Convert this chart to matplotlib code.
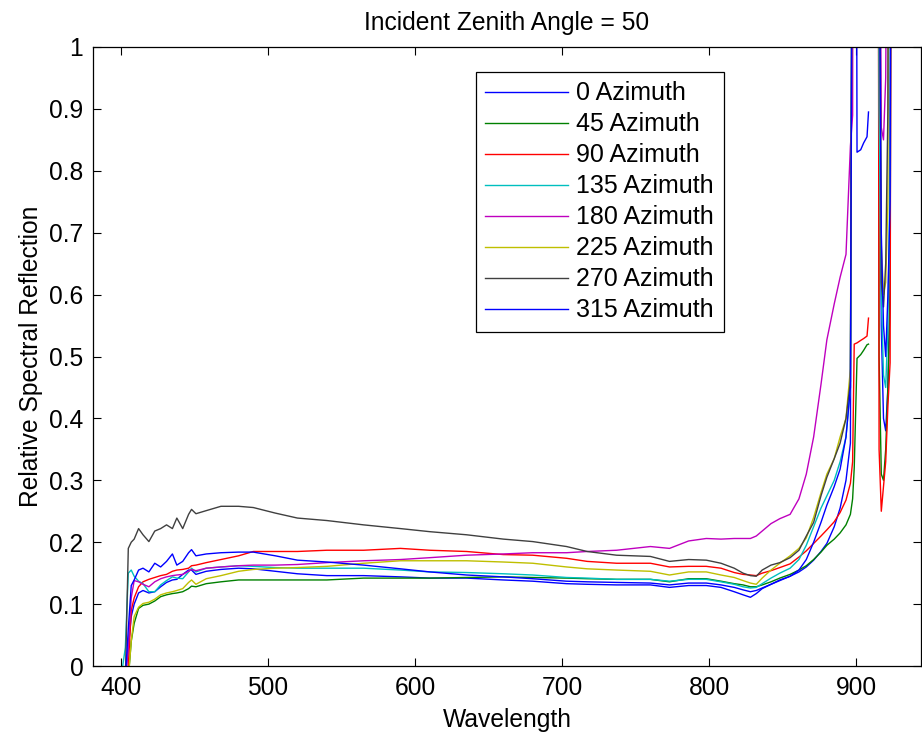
import numpy as np
import matplotlib
matplotlib.use("Agg")
import matplotlib.pyplot as plt
from matplotlib.ticker import FormatStrFormatter

plt.rcParams['font.family'] = ['Liberation Sans', 'DejaVu Sans']

nan = np.nan

# wavelength samples (nm)
wavelength = [
    400, 403, 405, 407, 409, 412, 415, 419, 423, 427,
    431, 435, 438, 442, 446, 448, 451, 458, 468, 480,
    490, 505, 520, 540, 565, 590, 610, 635, 660, 680,
    703, 717, 737, 760, 773, 786, 798, 808, 817, 823,
    828, 832, 836, 842, 848, 855, 861, 866, 871, 876,
    880, 885, 889, 893, 896, 897.5, 898.6, 900.5, 903, 905,
    907.3, 908.3, 910, 914, 915.5, 917, 918.5, 920, 921.5, 923,
    925,
]

az_0 = [
    -0.02, -0.02, 0.03, 0.08, 0.10, 0.118, 0.122, 0.118, 0.12, 0.128,
    0.135, 0.139, 0.14, 0.148, 0.155, 0.155, 0.148, 0.153, 0.156, 0.158,
    0.157, 0.153, 0.149, 0.146, 0.146, 0.144, 0.142, 0.142, 0.139, 0.137,
    0.133, 0.132, 0.131, 0.131, 0.127, 0.130, 0.130, 0.127, 0.120, 0.115,
    0.111, 0.117, 0.125, 0.132, 0.139, 0.145, 0.152, 0.160, 0.171, 0.185,
    0.198, 0.225, 0.255, 0.30, 0.36, 1.5, 3, 3, 3, 3,
    3, 3, nan, 3, 1.2, 0.55, 0.40, 0.38, 0.45, 0.6,
    3,
]
az_45 = [
    -0.02, -0.02, -0.02, 0.04, 0.069, 0.093, 0.098, 0.10, 0.105, 0.112,
    0.115, 0.117, 0.118, 0.12, 0.125, 0.129, 0.128, 0.133, 0.136, 0.139,
    0.139, 0.139, 0.139, 0.139, 0.142, 0.142, 0.142, 0.143, 0.144, 0.143,
    0.142, 0.141, 0.140, 0.140, 0.136, 0.141, 0.141, 0.137, 0.133, 0.131,
    0.128, 0.128, 0.131, 0.136, 0.142, 0.148, 0.155, 0.162, 0.172, 0.184,
    0.195, 0.205, 0.215, 0.228, 0.245, 0.27, 0.32, 0.497, 0.503, 0.51,
    0.519, 0.52, nan, 3, 0.50, 0.31, 0.30, 0.35, 0.45, 0.6,
    3,
]
az_90 = [
    -0.02, -0.02, 0.0, 0.09, 0.11, 0.128, 0.136, 0.14, 0.143, 0.146,
    0.148, 0.153, 0.155, 0.156, 0.158, 0.162, 0.163, 0.167, 0.172, 0.178,
    0.185, 0.185, 0.185, 0.187, 0.187, 0.190, 0.187, 0.185, 0.180, 0.179,
    0.174, 0.169, 0.166, 0.166, 0.160, 0.161, 0.161, 0.158, 0.151, 0.148,
    0.147, 0.146, 0.150, 0.154, 0.159, 0.165, 0.176, 0.186, 0.198, 0.21,
    0.22, 0.233, 0.248, 0.268, 0.295, 0.33, 0.52, 0.522, 0.526, 0.529,
    0.533, 0.562, nan, 3, 0.35, 0.25, 0.29, 0.33, 0.42, 0.49,
    3,
]
az_135 = [
    -0.02, 0.03, 0.15, 0.155, 0.145, 0.137, 0.133, 0.12, 0.12, 0.131,
    0.138, 0.144, 0.142, 0.141, 0.152, 0.158, 0.152, 0.158, 0.16, 0.162,
    0.161, 0.159, 0.158, 0.158, 0.158, 0.155, 0.152, 0.151, 0.149, 0.147,
    0.143, 0.142, 0.140, 0.140, 0.137, 0.140, 0.140, 0.136, 0.132, 0.128,
    0.126, 0.127, 0.133, 0.142, 0.150, 0.158, 0.172, 0.195, 0.225, 0.255,
    0.275, 0.30, 0.33, 0.37, 0.45, 1.5, 3, 3, 3, 3,
    3, 3, nan, 3, 0.9, 0.6, 0.47, 0.45, 0.55, 0.8,
    3,
]
az_180 = [
    -0.02, -0.02, 0.03, 0.11, 0.138, 0.136, 0.132, 0.128, 0.136, 0.141,
    0.144, 0.146, 0.147, 0.148, 0.153, 0.156, 0.154, 0.158, 0.16, 0.162,
    0.163, 0.163, 0.164, 0.167, 0.170, 0.172, 0.175, 0.179, 0.181, 0.183,
    0.183, 0.185, 0.187, 0.193, 0.190, 0.202, 0.206, 0.205, 0.206, 0.206,
    0.206, 0.21, 0.218, 0.23, 0.238, 0.245, 0.27, 0.31, 0.37, 0.455,
    0.527, 0.585, 0.628, 0.665, 0.84, 0.89, 3, 3, 3, 3,
    3, 3, nan, 3, 1.5, 0.87, 0.85, 0.95, 1.5, 3,
    3,
]
az_225 = [
    -0.02, -0.02, -0.02, 0.04, 0.08, 0.095, 0.101, 0.103, 0.108, 0.115,
    0.118, 0.12, 0.122, 0.125, 0.135, 0.139, 0.132, 0.141, 0.146, 0.153,
    0.156, 0.158, 0.159, 0.161, 0.166, 0.170, 0.170, 0.170, 0.168, 0.166,
    0.160, 0.157, 0.155, 0.153, 0.147, 0.152, 0.152, 0.147, 0.143, 0.138,
    0.134, 0.132, 0.142, 0.155, 0.166, 0.178, 0.19, 0.207, 0.24, 0.28,
    0.31, 0.335, 0.37, 0.40, 0.48, 1.5, 3, 3, 3, 3,
    3, 3, nan, 3, 1.2, 0.68, 0.6, 0.62, 0.75, 3,
    3,
]
az_270 = [
    -0.02, -0.02, 0.19, 0.20, 0.205, 0.222, 0.212, 0.201, 0.218, 0.222,
    0.228, 0.222, 0.239, 0.222, 0.245, 0.253, 0.246, 0.251, 0.258, 0.258,
    0.256, 0.247, 0.239, 0.235, 0.228, 0.222, 0.217, 0.212, 0.205, 0.201,
    0.193, 0.185, 0.179, 0.177, 0.169, 0.172, 0.171, 0.166, 0.158, 0.150,
    0.146, 0.145, 0.155, 0.163, 0.167, 0.175, 0.187, 0.21, 0.232, 0.275,
    0.305, 0.335, 0.36, 0.40, 0.46, 1.5, 3, 3, 3, 3,
    3, 3, nan, 3, 1.5, 0.62, 0.58, 0.65, 0.9, 3,
    3,
]
az_315 = [
    -0.02, -0.02, 0.06, 0.13, 0.139, 0.155, 0.158, 0.152, 0.166, 0.16,
    0.169, 0.181, 0.163, 0.169, 0.183, 0.188, 0.178, 0.181, 0.183, 0.184,
    0.184, 0.178, 0.171, 0.168, 0.163, 0.157, 0.152, 0.147, 0.144, 0.141,
    0.137, 0.136, 0.135, 0.134, 0.131, 0.134, 0.134, 0.131, 0.127, 0.123,
    0.12, 0.122, 0.126, 0.132, 0.138, 0.145, 0.155, 0.172, 0.2, 0.232,
    0.26, 0.29, 0.318, 0.37, 0.45, 1.5, 3, 0.83, 0.834, 0.845,
    0.855, 0.895, nan, 3, 1.2, 0.7, 0.55, 0.5, 0.6, 0.75,
    3,
]

labels = ['0 Azimuth', '45 Azimuth', '90 Azimuth', '135 Azimuth',
          '180 Azimuth', '225 Azimuth', '270 Azimuth', '315 Azimuth']
series = [az_0, az_45, az_90, az_135, az_180, az_225, az_270, az_315]
colors = ['#0000ff', '#008000', '#ff0000', '#00bfbf',
          '#bf00bf', '#bfbf00', '#404040', '#0000ff']

fig = plt.figure(figsize=(9.22, 7.34), dpi=100)
ax = fig.add_axes([93 / 922, 68 / 734, 828 / 922, 619 / 734])

for vals, lab, col in zip(series, labels, colors):
    ax.plot(wavelength, vals, color=col, lw=1.0, label=lab)

ax.set_xlim(381, 944)
ax.set_ylim(0, 1)
ax.set_xticks([400, 500, 600, 700, 800, 900])
ax.set_yticks(np.arange(0, 1.01, 0.1))
ax.yaxis.set_major_formatter(FormatStrFormatter('%g'))
ax.tick_params(direction='in', top=True, right=True, length=6, width=0.8,
               labelsize=17.7, pad=7)
for sp in ax.spines.values():
    sp.set_linewidth(0.9)

ax.set_title('Incident Zenith Angle = 50', fontsize=17.7, pad=12)
ax.set_xlabel('Wavelength', fontsize=17.7, labelpad=6)
ax.set_ylabel('Relative Spectral Reflection', fontsize=17.7, labelpad=4)

leg = ax.legend(loc='upper left', bbox_to_anchor=(0.462, 0.96), borderaxespad=0,
                fontsize=18, handlelength=3.3, handletextpad=0.35,
                borderpad=0.38, labelspacing=0.28, fancybox=False,
                framealpha=1, edgecolor='black')
leg.get_frame().set_linewidth(0.9)

fig.savefig('out.png', dpi=100)
